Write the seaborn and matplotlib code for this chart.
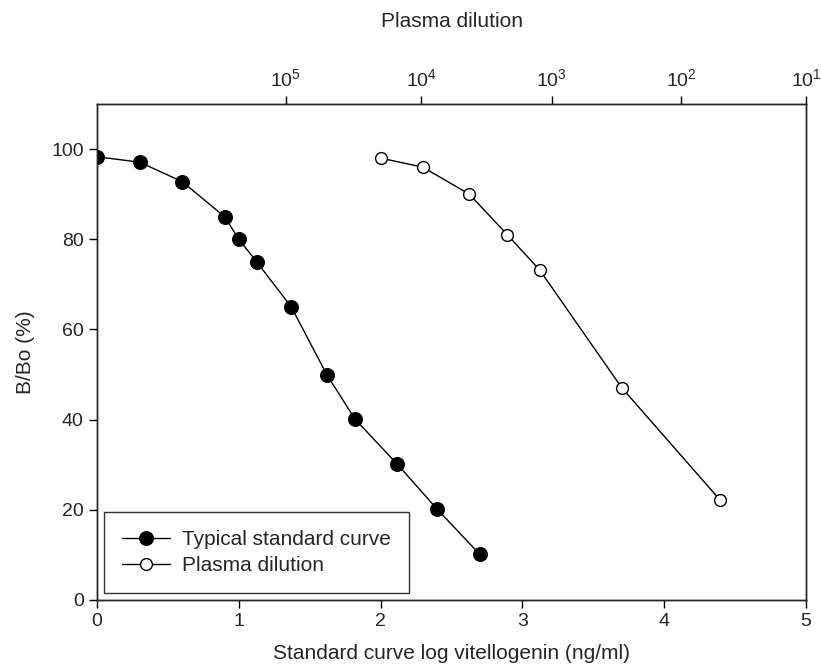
import matplotlib
matplotlib.use("Agg")
import matplotlib.pyplot as plt
import seaborn as sns
import pandas as pd

std_x = [0.0, 0.30, 0.60, 0.90, 1.00, 1.126, 1.37, 1.62, 1.82, 2.118, 2.40, 2.70]
std_y = [98.3, 97.1, 92.8, 85.0, 80.0, 75.0, 65.0, 50.0, 40.1, 30.1, 20.1, 10.1]
pl_x = [2.0, 2.297, 2.626, 2.894, 3.124, 3.70, 4.396]
pl_y = [98.0, 96.0, 90.0, 81.0, 73.1, 47.1, 22.1]
top_tick_pos = [1.332, 2.286, 3.207, 4.118, 5.0]
top_tick_labels = [r"$10^5$", r"$10^4$", r"$10^3$", r"$10^2$", r"$10^1$"]

sns.set_style("ticks")
plt.rcParams['font.family'] = ['Liberation Sans', 'DejaVu Sans']
plt.rcParams['mathtext.fontset'] = 'custom'
plt.rcParams['mathtext.rm'] = 'Liberation Sans'
plt.rcParams['mathtext.it'] = 'Liberation Sans'

FS_TICK = 14
FS_LAB = 15

fig = plt.figure(figsize=(8.21, 6.69), dpi=100)
ax = fig.add_axes([97/821, 1-600/669, (806-97)/821, (600-104)/669])

df_std = pd.DataFrame({"x": std_x, "y": std_y})
df_pl = pd.DataFrame({"x": pl_x, "y": pl_y})

sns.lineplot(data=df_std, x="x", y="y", ax=ax, sort=False, color="black", lw=1.0,
             marker="o", markersize=10, markerfacecolor="black", markeredgecolor="black",
             label="Typical standard curve", zorder=3)
sns.lineplot(data=df_pl, x="x", y="y", ax=ax, sort=False, color="black", lw=1.0,
             marker="o", markersize=8.5, markerfacecolor="white", markeredgecolor="black",
             markeredgewidth=1.0, label="Plasma dilution", zorder=3)

ax.set_xlim(0, 5)
ax.set_ylim(0, 110)
ax.set_xticks([0, 1, 2, 3, 4, 5])
ax.set_yticks([0, 20, 40, 60, 80, 100])
ax.tick_params(direction="out", length=6, width=1, labelsize=FS_TICK, color="black")
for s in ax.spines.values():
    s.set_linewidth(1.0)
    s.set_color("black")
ax.set_xlabel("Standard curve log vitellogenin (ng/ml)", fontsize=FS_LAB, labelpad=10)
ax.set_ylabel("B/Bo (%)", fontsize=FS_LAB, labelpad=12)

ax2 = ax.twiny()
ax2.set_xlim(ax.get_xlim())
ax2.set_xticks(top_tick_pos)
ax2.set_xticklabels(top_tick_labels)
ax2.tick_params(direction="out", length=6, width=1, labelsize=FS_TICK, color="black", pad=4)
ax2.set_xlabel("Plasma dilution", fontsize=FS_LAB, labelpad=30)
for s in ax2.spines.values():
    s.set_linewidth(1.0)

leg = ax.legend(loc="lower left", bbox_to_anchor=(7/709, 7/496), borderaxespad=0,
                frameon=True, fancybox=False, edgecolor="black", fontsize=FS_LAB,
                handlelength=2.3, borderpad=0.85, labelspacing=0.35, handletextpad=0.6)
leg.get_frame().set_linewidth(1.0)

fig.savefig("out.png", dpi=100)
